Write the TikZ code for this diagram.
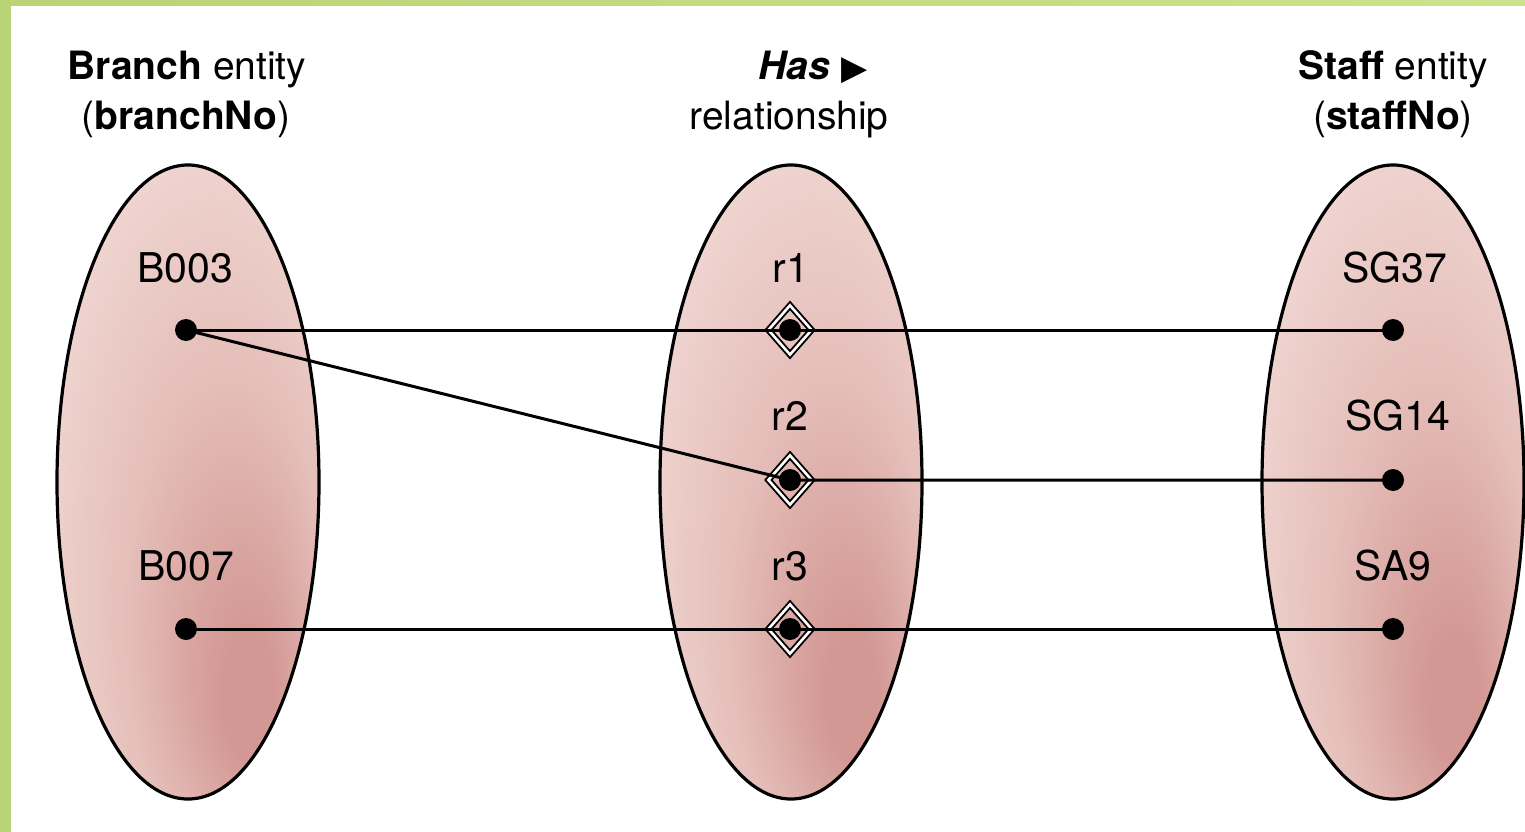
\documentclass[tikz,border=0pt]{standalone}
\usepackage{fontspec}
\setmainfont{TeX Gyre Heros}
\newfontfamily\symfont{DejaVu Sans}
\usetikzlibrary{shapes.geometric}
\definecolor{pinkdark}{RGB}{211,152,148}
\definecolor{pinkmid}{RGB}{229,190,185}
\definecolor{pinklight}{RGB}{249,234,230}
\definecolor{greenA}{RGB}{184,212,118}
\definecolor{greenB}{RGB}{206,225,140}
\pgfdeclareradialshading{ovalshade}{\pgfpoint{13bp}{-19bp}}{%
  color(0bp)=(pinkdark); color(5bp)=(pinkdark); color(19bp)=(pinkmid); color(45bp)=(pinklight)}
\tikzset{
  oval/.style={shading=ovalshade},
  ovalline/.style={line width=3.2pt},
  dotnode/.style={circle, fill=black, inner sep=0pt, minimum size=22pt},
  reln/.style={diamond, draw=black, line width=1.9pt, double=white, double distance=2.6pt, inner sep=0pt, minimum width=44pt, minimum height=50pt},
  conn/.style={line width=3pt},
  head/.style={inner sep=0pt, anchor=base, font=\fontsize{39}{47}\selectfont},
  lbl/.style={inner sep=0pt, anchor=base, font=\fontsize{41}{48}\selectfont}
}
\begin{document}
\begin{tikzpicture}[x=1pt,y=-1pt]
\useasboundingbox (0,0) rectangle (1525,832);
\fill[white] (0,0) rectangle (1525,832);
\shade[left color=greenA, right color=greenB] (0,0) rectangle (1525,6);
\fill[greenA] (0,0) rectangle (11,832);
% ovals
\foreach \cx in {188,791,1393}{
  \path[oval] (\cx,482) ellipse [x radius=131pt, y radius=317pt];
  \draw[ovalline] (\cx,482) ellipse [x radius=131pt, y radius=317pt];
}
% headers
\node[head] (h1a) at (187,80) {\bfseries Branch \mdseries entity};
\node[head] (h1b) at (186,129) {(\textbf{branchNo})};
\node[head] (h2a) at (813,80) {\textbf{\textit{Has}} {\symfont\fontsize{34}{40}\selectfont ▶}};
\node[head] (h2b) at (789,129) {relationship};
\node[head] (h3a) at (1393,80) {\textbf{Staff} entity};
\node[head] (h3b) at (1393,129) {(\textbf{staffNo})};
% labels
\node[lbl] (lb1) at (185,282) {B003};
\node[lbl] (lb2) at (186,580) {B007};
\node[lbl] (lr1) at (791,282) {r1};
\node[lbl] (lr2) at (790,430) {r2};
\node[lbl] (lr3) at (790,580) {r3};
\node[lbl] (ls1) at (1395,282) {SG37};
\node[lbl] (ls2) at (1398,430) {SG14};
\node[lbl] (ls3) at (1393,580) {SA9};
% relationship diamonds
\node[reln] (r1) at (790,330) {};
\node[reln] (r2) at (790,480) {};
\node[reln] (r3) at (790,629) {};
% dots
\coordinate (b1) at (186,330);
\coordinate (b2) at (186,629);
\coordinate (s1) at (1393,330);
\coordinate (s2) at (1393,480);
\coordinate (s3) at (1393,629);
% connectors
\draw[conn] (b1) -- (r1.center) -- (s1);
\draw[conn] (b1) -- (r2.center) -- (s2);
\draw[conn] (b2) -- (r3.center) -- (s3);
\node[dotnode] (db1) at (b1) {};
\node[dotnode] (db2) at (b2) {};
\node[dotnode] (dr1) at (r1.center) {};
\node[dotnode] (dr2) at (r2.center) {};
\node[dotnode] (dr3) at (r3.center) {};
\node[dotnode] (ds1) at (s1) {};
\node[dotnode] (ds2) at (s2) {};
\node[dotnode] (ds3) at (s3) {};
\end{tikzpicture}
\end{document}
